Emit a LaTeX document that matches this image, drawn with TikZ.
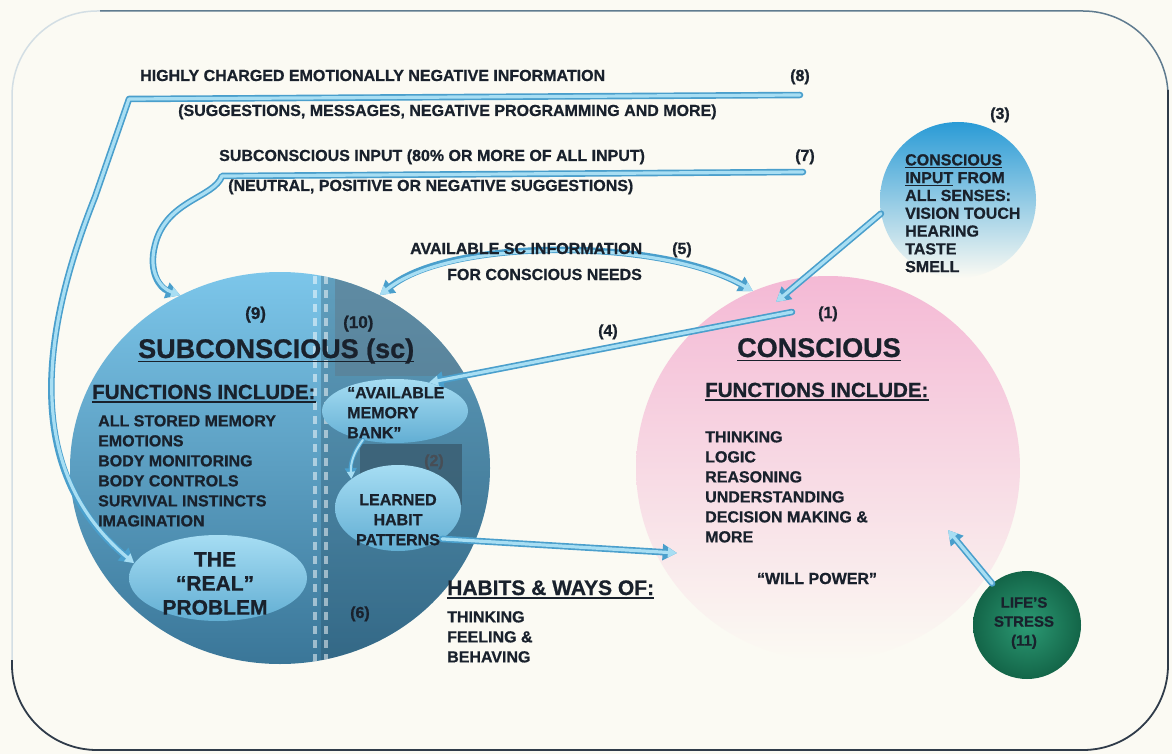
\documentclass[tikz,border=0pt]{standalone}
\usepackage{fontspec}
\setmainfont{Liberation Sans}[BoldFeatures={FakeBold=0.8}]
\usetikzlibrary{arrows.meta,shapes.geometric}

\definecolor{bgc}{HTML}{FBFAF3}
\definecolor{ink}{HTML}{19212C}
\definecolor{frameTop}{HTML}{5F7B8F}
\definecolor{frameDark}{HTML}{2F3B49}
\definecolor{frameFaint}{HTML}{D3DEE4}
\definecolor{subTop}{HTML}{7CC6EA}
\definecolor{subBot}{HTML}{3A7698}
\definecolor{subShade}{HTML}{24485C}
\definecolor{slate}{HTML}{5E7C8E}
\definecolor{gapShade}{HTML}{3B5F73}
\definecolor{bubTop}{HTML}{A6DDF3}
\definecolor{bubBot}{HTML}{62AED3}
\definecolor{pinkT}{HTML}{F4B9D5}
\definecolor{pinkM}{HTML}{F7CBE0}
\definecolor{inpTop}{HTML}{2A9BD6}
\definecolor{inpMid}{HTML}{86CBEC}
\definecolor{greenIn}{HTML}{2C9A74}
\definecolor{greenOut}{HTML}{136548}
\definecolor{flowEdge}{HTML}{4A9FCC}
\definecolor{flowCore}{HTML}{A8DEF3}

\newcommand\txtsize[2]{\fontsize{#1}{#2}\selectfont\bfseries}

\tikzset{
  lbl/.style={inner sep=0pt, text=ink, font=\txtsize{16}{20}},
  bubble/.style={ellipse, inner sep=0pt, top color=bubTop, bottom color=bubBot, draw=none},
  flow/.style={draw=flowCore, line width=3.2pt, line cap=round, line join=round,
    preaction={draw=flowEdge, line width=6.5pt, line cap=round, line join=round}},
  flowthin/.style={draw=flowCore, line width=2pt, line cap=round,
    preaction={draw=flowEdge, line width=4.2pt, line cap=round}},
  tip/.style={-{Triangle[length=4pt 1.6, width=4pt 1.8]}},
  twotips/.style={{Triangle[length=4pt 1.6, width=4pt 1.8]}-{Triangle[length=4pt 1.6, width=4pt 1.8]}},
  uline/.style={draw=ink, line width=1.6pt},
  ulinethin/.style={draw=ink, line width=1.2pt}
}

\begin{document}
\begin{tikzpicture}[x=1pt,y=-1pt]
\useasboundingbox (0,0) rectangle (1172,754);
\fill[bgc] (0,0) rectangle (1172,754);

% outer frame
\draw[frameFaint, line width=1.5pt, rounded corners=85pt] (12,660) -- (12,11) -- (110,11);
\draw[frameTop, line width=1.5pt, rounded corners=85pt] (100,11) -- (1168,11) -- (1168,100);
\draw[frameDark, line width=1.8pt, rounded corners=85pt] (1168,90) -- (1168,750) -- (12,750) -- (12,660);

% subconscious sphere
\node[ellipse, inner sep=0pt, minimum width=420pt, minimum height=392pt,
      top color=subTop, bottom color=subBot] (sub) at (280,468) {};
\begin{scope}
  \clip (280,468) ellipse [x radius=210pt, y radius=196pt];
  \fill[subShade, opacity=.30] (321,260) rectangle (500,690);
  \fill[slate, opacity=.55] (335,260) rectangle (500,376);
  \draw[white, opacity=.5, line width=4pt, dash pattern=on 8pt off 6pt] (315,262) -- (315,690);
  \draw[white, opacity=.5, line width=4pt, dash pattern=on 8pt off 6pt] (326,262) -- (326,690);
  \fill[gapShade, opacity=.85] (360,444) rectangle (462,505);
\end{scope}

% inner bubbles
\node[bubble, minimum width=146pt, minimum height=64pt] (mb) at (395,411) {};
\node[bubble, minimum width=126pt, minimum height=86pt] (lh) at (398,508) {};
\node[bubble, minimum width=178pt, minimum height=86pt] (rp) at (218,578) {};

% conscious sphere
\node[circle, inner sep=0pt, minimum size=384pt,
      top color=pinkT, middle color=pinkM, bottom color=bgc] (pinkc) at (828,468) {};

% senses input sphere
\node[circle, inner sep=0pt, minimum size=156pt,
      top color=inpTop, middle color=inpMid, bottom color=bgc] (inp) at (958,200) {};

% life's stress sphere
\node[circle, inner sep=0pt, minimum size=108pt,
      inner color=greenIn, outer color=greenOut] (stress) at (1027,625) {};

% connectors
\coordinate (c8) at (800,95);
\coordinate (c7) at (803,172);
\coordinate (c3) at (776,302);
\coordinate (c4) at (792,312);
\coordinate (cHL) at (677,553);
\coordinate (cS) at (948,530);

\draw[flow, tip] (c8) -- (129,99) -- (95,197) .. controls (42,330) and (22,470) .. (rp.170);
\draw[flow, tip] (c7) -- (222,176) .. controls (214,198) and (166,200) .. (155,245)
      .. controls (148,272) and (160,288) .. (sub.120);
\draw[flow, twotips] (sub.60) .. controls (450,238) and (660,238) .. (pinkc.113);
\draw[flow, tip] (inp.190) -- (c3);
\draw[flow, tip] (c4) -- (mb.40);
\draw[flow, tip] (lh.-35) -- (cHL);
\draw[flow, tip] (stress.130) -- (cS);
\draw[flowthin, tip] (mb.-138) to[bend right=20] (lh.148);

% top labels
\node[lbl, anchor=base west] (t8) at (140,81) {HIGHLY CHARGED EMOTIONALLY NEGATIVE INFORMATION};
\node[lbl, anchor=base west] (n8) at (790,81) {(8)};
\node[lbl, anchor=base west] (t8b) at (178,116) {(SUGGESTIONS, MESSAGES, NEGATIVE PROGRAMMING AND MORE)};
\node[lbl, anchor=base west] (n3) at (990,119) {(3)};
\node[lbl, anchor=base west] (t7) at (219,161) {SUBCONSCIOUS INPUT (80\% OR MORE OF ALL INPUT)};
\node[lbl, anchor=base west] (n7) at (795,161) {(7)};
\node[lbl, anchor=base west] (t7b) at (228,191) {(NEUTRAL, POSITIVE OR NEGATIVE SUGGESTIONS)};
\node[lbl, anchor=base west] (t5) at (410,254) {AVAILABLE SC INFORMATION};
\node[lbl, anchor=base west] (n5) at (672,254) {(5)};
\node[lbl, anchor=base west] (t5b) at (447,280) {FOR CONSCIOUS NEEDS};
\node[lbl, anchor=base west] (n4) at (598,336) {(4)};
\node[lbl, anchor=base west] (n1) at (818,318) {(1)};

% subconscious texts
\node[lbl, font=\txtsize{17}{20}, anchor=base west] (n9) at (245,319) {(9)};
\node[lbl, font=\txtsize{17}{20}, anchor=base west] (n10) at (343,328) {(10)};
\node[lbl, font=\txtsize{27}{30}, anchor=base west] (hSub) at (138,358) {SUBCONSCIOUS (sc)};
\draw[uline] ([yshift=-3.5pt]hSub.base west) -- ([yshift=-3.5pt]hSub.base east);
\node[lbl, font=\txtsize{20.5}{24}, anchor=base west] (fSub) at (92,399) {FUNCTIONS INCLUDE:};
\draw[ulinethin] ([yshift=-3pt]fSub.base west) -- ([yshift=-3pt]fSub.base east);
\node[lbl, align=left, anchor=north west] (lSub) at (98,415)
  {ALL STORED MEMORY\\EMOTIONS\\BODY MONITORING\\BODY CONTROLS\\SURVIVAL INSTINCTS\\IMAGINATION};
\node[lbl, align=left, anchor=north west] (lMem) at (347,387) {“AVAILABLE\\MEMORY\\BANK”};
\node[lbl, anchor=base west, text=ink!80] (n2) at (424,466) {(2)};
\node[lbl, align=center, anchor=north] (lLH) at (398,494) {LEARNED\\HABIT\\PATTERNS};
\node[lbl, font=\txtsize{21}{24}, align=center, anchor=north] (lRP) at (215,552) {THE\\“REAL”\\PROBLEM};
\node[lbl, anchor=base west] (n6) at (350,618) {(6)};

% habits
\node[lbl, font=\txtsize{21}{24}, anchor=base west] (hHab) at (447,595) {HABITS \& WAYS OF:};
\draw[ulinethin] ([yshift=-3pt]hHab.base west) -- ([yshift=-3pt]hHab.base east);
\node[lbl, align=left, anchor=north west] (lHab) at (447,611) {THINKING\\FEELING \&\\BEHAVING};

% conscious texts
\node[lbl, font=\txtsize{27}{30}, anchor=base west] (hCon) at (737,357) {CONSCIOUS};
\draw[uline] ([yshift=-3.5pt]hCon.base west) -- ([yshift=-3.5pt]hCon.base east);
\node[lbl, font=\txtsize{20.5}{24}, anchor=base west] (fCon) at (705,397) {FUNCTIONS INCLUDE:};
\draw[ulinethin] ([yshift=-3pt]fCon.base west) -- ([yshift=-3pt]fCon.base east);
\node[lbl, align=left, anchor=north west] (lCon) at (705,431)
  {THINKING\\LOGIC\\REASONING\\UNDERSTANDING\\DECISION MAKING \&\\MORE};
\node[lbl, anchor=base] (wp) at (817,584) {“WILL POWER”};

% senses input texts
\node[lbl, font=\txtsize{16}{17.8}, align=left, anchor=north west] (lInp) at (905,154)
  {\underline{CONSCIOUS}\\\underline{INPUT} FROM\\ALL SENSES:\\VISION TOUCH\\HEARING\\TASTE\\SMELL};

% stress texts
\node[lbl, font=\txtsize{15}{19}, align=center, anchor=north] (lStr) at (1024,597) {LIFE’S\\STRESS\\(11)};
\end{tikzpicture}
\end{document}
